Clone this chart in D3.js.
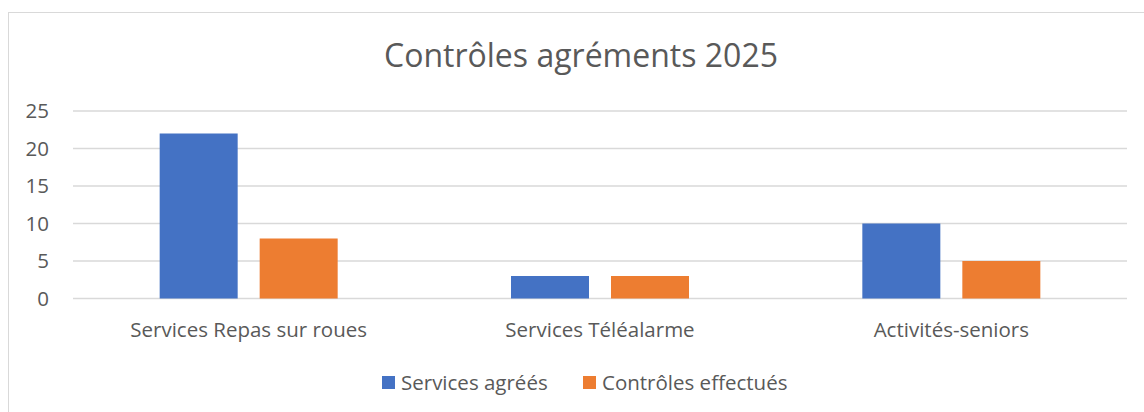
<!DOCTYPE html>
<html>
<head>
<meta charset="utf-8">
<script src="https://cdn.jsdelivr.net/npm/d3@7"></script>
<style>
  body { margin: 0; background: #fff; }
  svg text { font-family: "Open Sans", sans-serif; fill: #595959; }
</style>
</head>
<body>
<svg id="chart" width="1144" height="412"></svg>
<script>
var categories = ['Services Repas sur roues', 'Services Téléalarme', 'Activités-seniors'];
var series_names = ['Services agréés', 'Contrôles effectués'];
var services_agrees = [22, 3, 10];
var controles_effectues = [8, 3, 5];
var y_ticks = [0, 5, 10, 15, 20, 25];
var colors = ['#4472c4', '#ed7d31'];

var svg = d3.select('#chart');

// chart frame (cropped at right and bottom)
svg.append('rect')
    .attr('x', 8.5).attr('y', 12.5)
    .attr('width', 1150).attr('height', 420)
    .attr('fill', 'none')
    .attr('stroke', '#d9d9d9')
    .attr('stroke-width', 1);

svg.append('text')
    .attr('x', 581).attr('y', 67)
    .attr('text-anchor', 'middle')
    .style('font-size', '32px')
    .text('Contrôles agréments 2025');

var x0 = d3.scaleBand()
    .domain(categories)
    .range([73, 1127])
    .paddingInner(0)
    .paddingOuter(0);

var x1 = d3.scaleBand()
    .domain(series_names)
    .range([0, 178])
    .paddingInner(0.22)
    .paddingOuter(0);

var y = d3.scaleLinear()
    .domain([0, 25])
    .range([298.5, 111]);

// gridlines
svg.append('g')
    .selectAll('line')
    .data(y_ticks)
    .enter()
    .append('line')
    .attr('x1', 73).attr('x2', 1127)
    .attr('y1', function(d) { return y(d); })
    .attr('y2', function(d) { return y(d); })
    .attr('stroke', '#d9d9d9')
    .attr('stroke-width', 1.3);

// y tick labels
svg.append('g')
    .selectAll('text')
    .data(y_ticks)
    .enter()
    .append('text')
    .attr('x', 49)
    .attr('y', function(d) { return y(d) + 7; })
    .attr('text-anchor', 'end')
    .style('font-size', '20.5px')
    .text(function(d) { return d; });

var rows = categories.map(function(c, i) {
    return { cat: c, values: [services_agrees[i], controles_effectues[i]] };
});

var groups = svg.append('g')
    .selectAll('g')
    .data(rows)
    .enter()
    .append('g')
    .attr('transform', function(d) {
        return 'translate(' + (x0(d.cat) + x0.bandwidth() / 2 - 89) + ',0)';
    });

groups.selectAll('rect')
    .data(function(d) {
        return d.values.map(function(v, j) { return { name: series_names[j], v: v, j: j }; });
    })
    .enter()
    .append('rect')
    .attr('x', function(d) { return x1(d.name); })
    .attr('y', function(d) { return y(d.v); })
    .attr('width', x1.bandwidth())
    .attr('height', function(d) { return y(0) - y(d.v); })
    .attr('fill', function(d) { return colors[d.j]; });

// category labels
svg.append('g')
    .selectAll('text')
    .data(categories)
    .enter()
    .append('text')
    .attr('x', function(d) { return x0(d) + x0.bandwidth() / 2; })
    .attr('y', 337)
    .attr('text-anchor', 'middle')
    .style('font-size', '20.5px')
    .text(function(d) { return d; });

// legend
var legend_x = [382, 583];
var legend = svg.append('g')
    .selectAll('g')
    .data(series_names)
    .enter()
    .append('g')
    .attr('transform', function(d, i) { return 'translate(' + legend_x[i] + ',376)'; });
legend.append('rect')
    .attr('width', 13).attr('height', 13)
    .attr('fill', function(d, i) { return colors[i]; });
legend.append('text')
    .attr('x', 19).attr('y', 14)
    .style('font-size', '20.5px')
    .text(function(d) { return d; });
</script>
</body>
</html>
